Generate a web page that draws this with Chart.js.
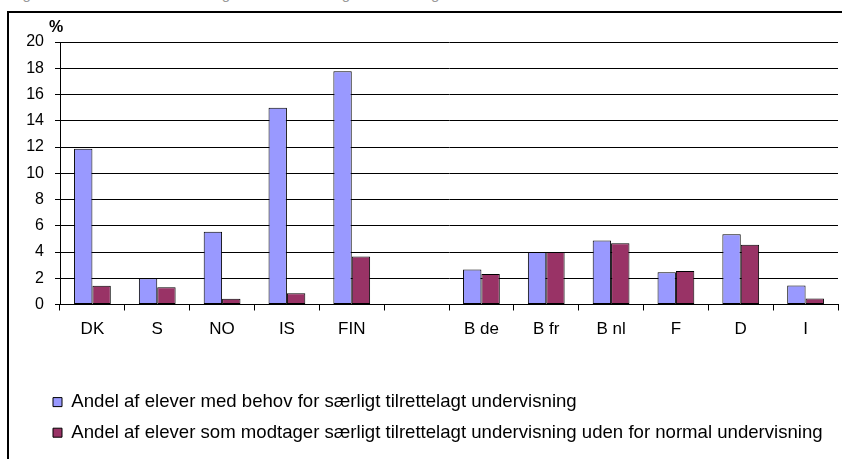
<!DOCTYPE html>
<html>
<head>
<meta charset="utf-8">
<script src="https://cdn.jsdelivr.net/npm/chart.js@4"></script>
<style>
  body { margin: 0; background: #fff; overflow: hidden; }
  #wrap { position: relative; width: 842px; height: 459px; }
  #frame { position: absolute; left: 7px; top: 11px; width: 900px; height: 500px;
           border-top: 2px solid #000; border-left: 2px solid #000; }
  #cut { position: absolute; left: 10px; top: -15px; font: 15px "Liberation Sans", Arial, sans-serif;
         color: #999; white-space: nowrap; }
  canvas { position: absolute; left: 0; top: 0; }
</style>
</head>
<body>
<div id="wrap">
  <div id="cut">Figur: Andel af elever med særlige behov for særlig undervisning</div>
  <div id="frame"></div>
  <canvas id="chart" width="842" height="459"></canvas>
</div>
<script>
// lande / regioner (tom plads mellem Norden og resten)
const countries = ['DK', 'S', 'NO', 'IS', 'FIN', '', 'B de', 'B fr', 'B nl', 'F', 'D', 'I'];
const behov = [11.87, 2.0, 5.54, 15.0, 17.78, null, 2.66, 4.0, 4.87, 2.46, 5.35, 1.44];
const udenfor = [1.42, 1.32, 0.43, 0.86, 3.66, null, 2.33, 4.0, 4.66, 2.56, 4.56, 0.46];
const yTicks = [0, 2, 4, 6, 8, 10, 12, 14, 16, 18, 20];

const label1 = 'Andel af elever med behov for særligt tilrettelagt undervisning';
const label2 = 'Andel af elever som modtager særligt tilrettelagt undervisning uden for normal undervisning';

const fontFam = '"Liberation Sans", Arial, sans-serif';

// "%" over y-aksen
const percentSign = {
  id: 'percentSign',
  afterDraw(chart) {
    const ctx = chart.ctx;
    const y = chart.scales.y;
    ctx.save();
    ctx.font = 'bold 16px ' + fontFam;
    ctx.fillStyle = '#000';
    ctx.textAlign = 'center';
    ctx.textBaseline = 'middle';
    ctx.fillText('%', y.right - 4, y.top - 14);
    ctx.restore();
  }
};

// skub legenden lidt til højre, så kassen står ved x=53
const legendShift = {
  id: 'legendShift',
  afterLayout(chart) {
    const l = chart.legend;
    l.left += 21;
    l.right += 21;
  }
};

const data = {
  labels: countries,
  datasets: [{
    label: label1,
    data: behov,
    backgroundColor: '#9999FF',
    borderColor: '#000',
    borderWidth: 1,
    borderSkipped: false
  }, {
    label: label2,
    data: udenfor,
    backgroundColor: '#993366',
    borderColor: '#000',
    borderWidth: 1,
    borderSkipped: false
  }]
};

const config = {
  type: 'bar',
  data: data,
  options: {
    responsive: false,
    animation: false,
    categoryPercentage: 0.567,
    barPercentage: 1.0,
    layout: { padding: { left: 20, right: 4, top: 42, bottom: 7 } },
    plugins: {
      tooltip: { enabled: false },
      legend: {
        position: 'bottom',
        align: 'start',
        labels: {
          boxWidth: 9,
          boxHeight: 9,
          padding: 12,
          color: '#000',
          font: { family: fontFam, size: 18.6 },
          generateLabels(chart) {
            return chart.data.datasets.map((ds, i) => ({
              text: ds.label,
              fillStyle: ds.backgroundColor,
              strokeStyle: '#000',
              lineWidth: 1,
              datasetIndex: i
            }));
          }
        }
      }
    },
    scales: {
      x: {
        offset: true,
        afterFit(s) { s.height = 76.3; },
        grid: {
          offset: true,
          drawOnChartArea: false,
          drawTicks: true,
          tickLength: 6,
          color: '#000'
        },
        border: { color: '#000', width: 1 },
        ticks: {
          color: '#000',
          padding: 9,
          font: { family: fontFam, size: 17 }
        }
      },
      y: {
        min: 0,
        max: 20,
        afterFit(s) { s.width = 40; },
        afterBuildTicks(s) { s.ticks = yTicks.map(v => ({ value: v })); },
        grid: {
          color: '#000',
          lineWidth: 1,
          tickLength: 5
        },
        border: { color: '#000', width: 1 },
        ticks: {
          color: '#000',
          padding: 11,
          font: { family: fontFam, size: 16 }
        }
      }
    }
  },
  plugins: [percentSign, legendShift]
};

new Chart(document.getElementById('chart'), config);
</script>
</body>
</html>
